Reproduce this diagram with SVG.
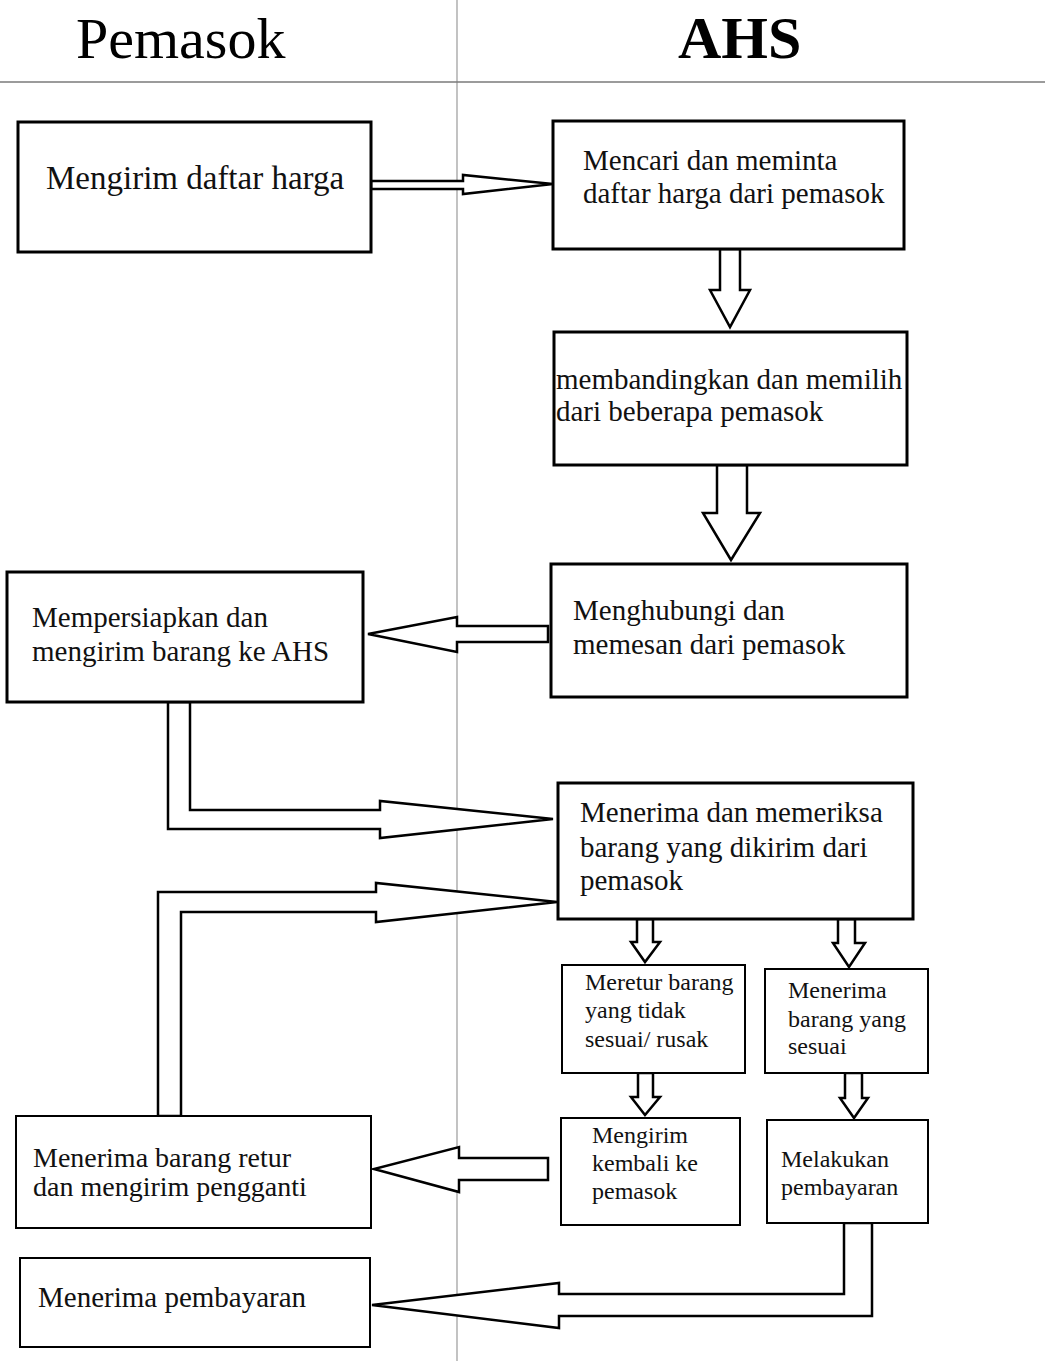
<svg xmlns="http://www.w3.org/2000/svg" width="1045" height="1361" viewBox="0 0 1045 1361">
<style>
.bg{fill:#ffffff}
.lane{stroke:#9a9a9a;stroke-width:1.2;fill:none}
.hdr{stroke:#7a7a7a;stroke-width:1.5;fill:none}
.box{fill:#ffffff;stroke:#000000;stroke-width:3}
.sbox{fill:#ffffff;stroke:#000000;stroke-width:2}
.arr{fill:#ffffff;stroke:#000000;stroke-width:2.5;stroke-linejoin:miter}
.t{font-family:"Liberation Serif","Times New Roman",serif;font-size:29px;fill:#111111}
.ts{font-family:"Liberation Serif","Times New Roman",serif;font-size:24px;fill:#111111}
.h{font-family:"Liberation Serif","Times New Roman",serif;font-size:60px;fill:#000000}
</style>
<rect class="bg" x="0" y="0" width="1045" height="1361"/>
<g id="lanes">
<line class="lane" x1="457" y1="0" x2="457" y2="1361"/>
<line class="hdr" x1="0" y1="82" x2="1045" y2="82"/>
<text class="h" x="76" y="58" style="font-size:58px">Pemasok</text>
<text class="h" x="678" y="58" font-weight="bold">AHS</text>
</g>
<g id="connectors">
<polygon class="arr" points="371,181 463,181 463,175 553,184 463,194 463,189 371,189"/>
<polygon class="arr" points="720,249 740,249 740,290 750,290 730,327 710,290 720,290"/>
<polygon class="arr" points="717,465 747,465 747,513 760,513 731,560 703,513 717,513"/>
<polygon class="arr" points="548,626 548,642 457,642 457,652 368,634 457,617 457,626"/>
<polygon class="arr" points="168,702 190,702 190,810 380,810 380,801 553,819 380,838 380,829 168,829"/>
<polygon class="arr" points="158,1116 181,1116 181,912 376,912 376,922 557,902 376,883 376,892 158,892"/>
<polygon class="arr" points="637,919 653,919 653,942 660,942 645,962 631,942 637,942"/>
<polygon class="arr" points="838,919 855,919 855,943 865,943 849,967 833,943 838,943"/>
<polygon class="arr" points="638,1073 653,1073 653,1097 660,1097 645,1115 631,1097 638,1097"/>
<polygon class="arr" points="845,1073 862,1073 862,1098 868,1098 854,1118 840,1098 845,1098"/>
<polygon class="arr" points="548,1158 548,1180 459,1180 459,1192 374,1169 459,1147 459,1158"/>
<polygon class="arr" points="844,1223 872,1223 872,1316 559,1316 559,1328 372,1305 559,1283 559,1294 844,1294"/>
</g>
<g id="n1">
<rect class="box" x="18" y="122" width="353" height="130"/>
<text class="t" x="46" y="189" style="font-size:33px">Mengirim daftar harga</text>
</g>
<g id="n2">
<rect class="box" x="553" y="121" width="351" height="128"/>
<text class="t" x="583" y="170">Mencari dan meminta</text>
<text class="t" x="583" y="203">daftar harga dari pemasok</text>
</g>
<g id="n3">
<rect class="box" x="554" y="332" width="353" height="133"/>
<text class="t" x="556" y="389">membandingkan dan memilih</text>
<text class="t" x="556" y="421">dari beberapa pemasok</text>
</g>
<g id="n4">
<rect class="box" x="551" y="564" width="356" height="133"/>
<text class="t" x="573" y="620">Menghubungi dan</text>
<text class="t" x="573" y="654">memesan dari pemasok</text>
</g>
<g id="n5">
<rect class="box" x="7" y="572" width="356" height="130"/>
<text class="t" x="32" y="627">Mempersiapkan dan</text>
<text class="t" x="32" y="661">mengirim barang ke AHS</text>
</g>
<g id="n6">
<rect class="box" x="558" y="783" width="355" height="136"/>
<text class="t" x="580" y="822">Menerima dan memeriksa</text>
<text class="t" x="580" y="857">barang yang dikirim dari</text>
<text class="t" x="580" y="890">pemasok</text>
</g>
<g id="n7">
<rect class="sbox" x="562" y="965" width="183" height="108"/>
<text class="ts" x="585" y="990">Meretur barang</text>
<text class="ts" x="585" y="1018">yang tidak</text>
<text class="ts" x="585" y="1047">sesuai/ rusak</text>
</g>
<g id="n8">
<rect class="sbox" x="765" y="969" width="163" height="104"/>
<text class="ts" x="788" y="998">Menerima</text>
<text class="ts" x="788" y="1027">barang yang</text>
<text class="ts" x="788" y="1054">sesuai</text>
</g>
<g id="n9">
<rect class="sbox" x="561" y="1118" width="179" height="107"/>
<text class="ts" x="592" y="1143">Mengirim</text>
<text class="ts" x="592" y="1171">kembali ke</text>
<text class="ts" x="592" y="1199">pemasok</text>
</g>
<g id="n10">
<rect class="sbox" x="767" y="1120" width="161" height="103"/>
<text class="ts" x="781" y="1167">Melakukan</text>
<text class="ts" x="781" y="1195">pembayaran</text>
</g>
<g id="n11">
<rect class="sbox" x="16" y="1116" width="355" height="112"/>
<text class="t" x="33" y="1167" style="font-size:28px">Menerima barang retur</text>
<text class="t" x="33" y="1196" style="font-size:28px">dan mengirim pengganti</text>
</g>
<g id="n12">
<rect class="sbox" x="20" y="1258" width="350" height="89"/>
<text class="t" x="38" y="1307">Menerima pembayaran</text>
</g>
</svg>
